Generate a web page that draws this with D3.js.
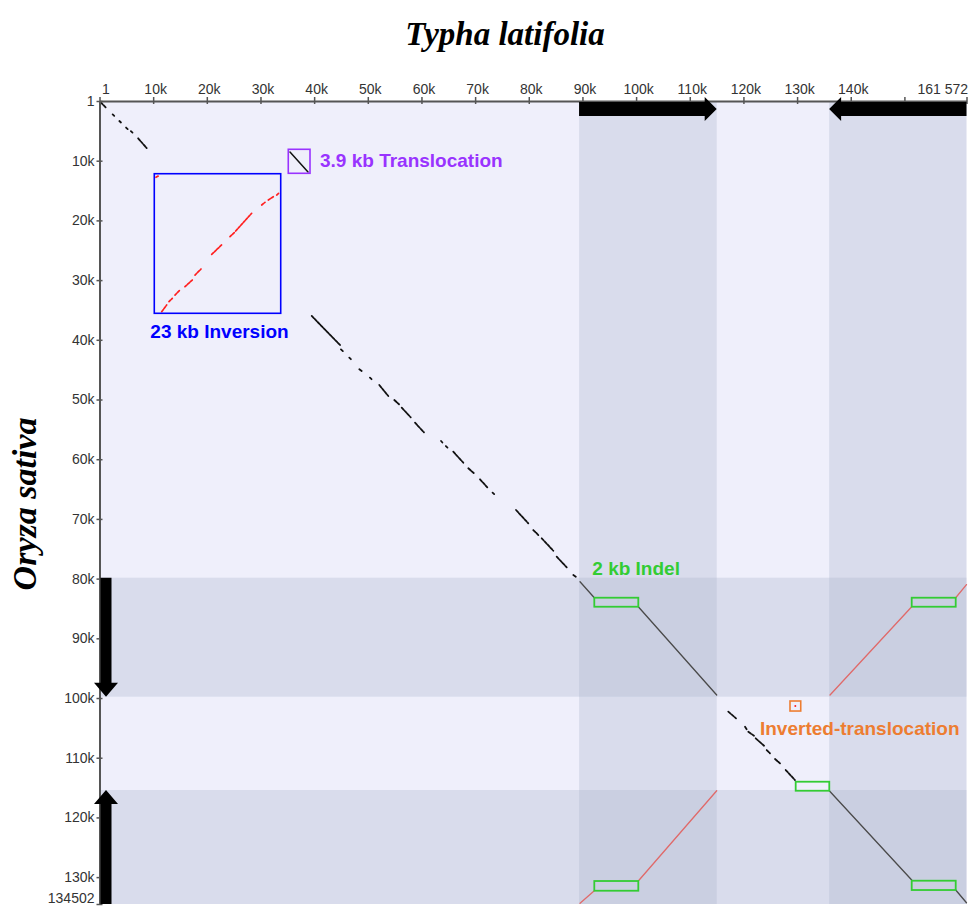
<!DOCTYPE html>
<html><head><meta charset="utf-8">
<script src="https://cdn.jsdelivr.net/npm/d3@7"></script>
<style>body{margin:0;background:#fff}</style>
</head><body>
<svg id="chart" width="971" height="908"></svg>
<script>
// ---------------- data ----------------
const typhaLength = 161572;   // x genome (bp)
const oryzaLength = 134502;   // y genome (bp)

const xTickValues = [1,10000,20000,30000,40000,50000,60000,70000,80000,90000,100000,110000,120000,130000,140000,150000,161572];
const xTickLabels = ["1","10k","20k","30k","40k","50k","60k","70k","80k","90k","100k","110k","120k","130k","140k","","161 572"];
const yTickValues = [1,10000,20000,30000,40000,50000,60000,70000,80000,90000,100000,110000,120000,130000,134502];
const yTickLabels = ["1","10k","20k","30k","40k","50k","60k","70k","80k","90k","100k","110k","120k","130k","134502"];

// inverted repeats (bp)
const typhaIR = [[89370,115020],[135970,161572]];
const oryzaIR = [[79850,99780],[115410,134502]];
const typhaIRdir = ["right","left"];
const oryzaIRdir = ["down","up"];

// alignment segments in kb: [typhaStart, oryzaStart, typhaEnd, oryzaEnd]
const forwardDashes = [
  [0.2,0.2,1.3,1.2],[2.45,2.25,2.75,2.5],[3.7,3.35,4.0,3.6],[4.95,4.45,5.25,4.7],[5.85,5.05,6.15,5.3],[7.2,6.25,8.8,7.9],
  [39.55,36.01,44.82,40.87],[45.0,41.6,45.35,41.9],[46.55,43.0,46.85,43.25],[48.42,44.94,48.86,45.23],[50.4,46.35,50.7,46.6],
  [52.14,47.57,53.82,49.41],[54.94,50.08,55.82,50.8],[56.32,51.37,58.0,52.98],[58.8,53.89,60.47,55.5],[63.65,56.95,63.9,57.2],
  [64.55,57.8,64.85,58.05],[65.93,58.74,67.8,60.59],[68.73,61.52,69.79,62.36],[70.91,63.37,72.27,64.71],[73.25,65.6,73.55,65.85],
  [77.62,68.51,79.91,70.74],[80.84,71.86,81.78,72.7],[82.41,73.25,84.57,75.33],[85.2,76.33,87.07,78.11],[88.3,79.4,88.93,79.78],
  [117.18,102.29,118.62,103.4],[120.3,104.8,120.61,105.24],[120.91,105.64,121.97,106.32],[122.29,106.75,123.84,107.99],
  [124.34,108.71,124.95,109.26],[125.89,110.22,126.82,110.94],[127.88,112.06,129.61,113.74]
];
const forwardIR = [
  [89.55,80.52,92.21,83.2],[100.41,84.71,115.02,99.5],[136.0,115.53,151.36,130.49],[159.56,132.16,161.57,134.3]
];
const reverseIR = [
  [136.14,99.5,151.36,84.71],[159.56,83.2,161.57,81.0],[89.55,134.39,92.21,132.28],[100.41,130.65,115.02,115.53]
];
const inversionSegs = [
  [10.53,12.78,10.96,12.56],[11.59,35.29,12.52,34.17],[12.95,33.62,13.57,33.05],[14.07,32.5,15.0,31.66],
  [15.93,31.11,17.29,29.98],[17.8,29.15,18.92,28.14],[20.91,25.68,22.89,24.0],[24.32,22.73,25.12,22.06],
  [25.38,21.78,28.36,18.81],[30.23,17.42,30.84,16.97],[31.46,16.58,32.39,16.03],[33.02,15.75,33.51,15.36]
];
const translocationSegs = [[35.5,8.54,38.86,11.89]];
const invTranslocationDot = [[129.67,101.34]];

// annotation boxes in kb: [x1,y1,x2,y2]
const translocationBox = [35.18,8.09,39.23,12.11];
const inversionBox = [10.21,12.18,33.77,35.56];
const indelBoxes = [
  [92.21,83.2,100.41,84.71],[151.36,83.2,159.56,84.71],[129.74,114.02,136.0,115.53],
  [151.36,130.6,159.56,132.16],[92.21,130.65,100.41,132.28]
];
const invTranslocationBox = [128.68,100.5,130.68,102.18];

const labelTexts = {
  title: "Typha latifolia", ytitle: "Oryza sativa",
  transloc: "3.9 kb Translocation", inversion: "23 kb Inversion",
  indel: "2 kb Indel", invTransloc: "Inverted-translocation"
};

// ---------------- drawing ----------------
const svg = d3.select("#chart");
const x = d3.scaleLinear().domain([1, typhaLength]).range([99.5, 966.5]);
const y = d3.scaleLinear().domain([1, oryzaLength]).range([101, 904]);
const kx = v => x(v*1000), ky = v => y(v*1000);
const sansFont = "'Liberation Sans', Arial, sans-serif";
const serifFont = "'Liberation Serif', 'Times New Roman', serif";

// plot background
svg.append("rect").attr("x", x(1)).attr("y", y(1))
  .attr("width", x(typhaLength)-x(1)).attr("height", y(oryzaLength)-y(1))
  .attr("fill", "#efeffb");

// IR bands
const band = "rgba(167,177,199,0.29)";
svg.append("g").selectAll("rect").data(typhaIR).join("rect")
  .attr("x", d=>x(d[0])).attr("width", d=>x(d[1])-x(d[0]))
  .attr("y", y(1)).attr("height", y(oryzaLength)-y(1)).attr("fill", band);
svg.append("g").selectAll("rect").data(oryzaIR).join("rect")
  .attr("y", d=>y(d[0])).attr("height", d=>y(d[1])-y(d[0]))
  .attr("x", x(1)).attr("width", x(typhaLength)-x(1)).attr("fill", band);

function segs(data, color, width, dash) {
  svg.append("g").selectAll("line").data(data).join("line")
    .attr("x1", d=>kx(d[0])).attr("y1", d=>ky(d[1]))
    .attr("x2", d=>kx(d[2])).attr("y2", d=>ky(d[3]))
    .attr("stroke", color).attr("stroke-width", width).attr("stroke-linecap", "round")
    .attr("stroke-dasharray", dash || null);
}
segs(forwardIR, "#4a4a4a", 1.3);
segs(reverseIR, "#e06a6a", 1.3);
segs(forwardDashes, "#111", 1.8, "3,1.2");
segs(inversionSegs, "#ff2020", 1.7, "2.5,1.2");
segs(translocationSegs, "#111", 1.5);
svg.append("g").selectAll("circle").data(invTranslocationDot).join("circle")
  .attr("cx", d=>kx(d[0])).attr("cy", d=>ky(d[1])).attr("r", 1).attr("fill", "#ff2020");

function box(b, color, w) {
  svg.append("rect").attr("x", kx(b[0])).attr("y", ky(b[1]))
    .attr("width", kx(b[2])-kx(b[0])).attr("height", ky(b[3])-ky(b[1]))
    .attr("fill", "none").attr("stroke", color).attr("stroke-width", w);
}
box(translocationBox, "#9933ff", 1.6);
box(inversionBox, "#0000ff", 1.6);
indelBoxes.forEach(b => box(b, "#33cc33", 1.8));
box(invTranslocationBox, "#ed7d31", 1.6);

// axes
const gx = svg.append("g").attr("transform", `translate(0,${y(1)})`)
  .call(d3.axisTop(x).tickValues(xTickValues).tickFormat((d,i)=>xTickLabels[i])
    .tickSizeInner(4).tickSizeOuter(0).tickPadding(3));
gx.attr("font-family", sansFont).attr("font-size", 14);
gx.select(".domain").attr("stroke", "#555").attr("stroke-width", 2);
gx.selectAll(".tick line").attr("y1", 3).attr("y2", -4).attr("stroke", "#555").attr("stroke-width", 1.5);
const nx = xTickValues.length - 1;
gx.selectAll(".tick text").attr("fill", "#333")
  .attr("dx", (d,i)=> i===0 ? 6 : (i===nx ? 1 : 2))
  .attr("text-anchor", (d,i)=> i===nx ? "end" : "middle");

const gy = svg.append("g").attr("transform", `translate(${x(1)},0)`)
  .call(d3.axisLeft(y).tickValues(yTickValues).tickFormat((d,i)=>yTickLabels[i])
    .tickSizeInner(3).tickSizeOuter(0).tickPadding(2));
gy.attr("font-family", sansFont).attr("font-size", 14);
gy.select(".domain").attr("stroke", "#555").attr("stroke-width", 2);
gy.selectAll(".tick line").attr("x1", -3).attr("x2", 3).attr("stroke", "#555").attr("stroke-width", 1.5);
const ny = yTickValues.length - 1;
gy.selectAll(".tick text").attr("fill", "#333")
  .attr("y", (d,i)=> i===ny ? -6 : 0);

// IR arrows
const arrowG = svg.append("g").attr("fill", "#000");
typhaIR.forEach((r,i) => {
  const a = x(r[0]), b = x(r[1]), c = y(1) + 8;
  const bh = 7, hh = 12, hl = 12;
  let pts;
  if (typhaIRdir[i] === "right") {
    pts = [[a,c-bh],[b-hl,c-bh],[b-hl,c-hh],[b,c],[b-hl,c+hh],[b-hl,c+bh],[a,c+bh]];
  } else {
    pts = [[b,c-bh],[a+hl,c-bh],[a+hl,c-hh],[a,c],[a+hl,c+hh],[a+hl,c+bh],[b,c+bh]];
  }
  arrowG.append("polygon").attr("points", pts.map(p=>p.join(",")).join(" "));
});
oryzaIR.forEach((r,i) => {
  const a = y(r[0]), b = y(r[1]), c = x(1) + 6.5;
  const bw = 5.5, hw = 12, hl = 14;
  let pts;
  if (oryzaIRdir[i] === "down") {
    pts = [[c-bw,a],[c-bw,b-hl],[c-hw,b-hl],[c,b],[c+hw,b-hl],[c+bw,b-hl],[c+bw,a]];
  } else {
    pts = [[c-bw,b],[c-bw,a+hl],[c-hw,a+hl],[c,a],[c+hw,a+hl],[c+bw,a+hl],[c+bw,b]];
  }
  arrowG.append("polygon").attr("points", pts.map(p=>p.join(",")).join(" "));
});

// annotation labels
function label(txt, px, py, color, anchor) {
  svg.append("text").attr("x", px).attr("y", py).text(txt)
    .attr("font-family", sansFont).attr("font-weight", "bold").attr("font-size", 19)
    .attr("fill", color).attr("text-anchor", anchor || "start");
}
label(labelTexts.transloc, kx(translocationBox[2]) + 10, ky(translocationBox[3]) - 6, "#9933ff");
label(labelTexts.inversion, (kx(inversionBox[0]) + kx(inversionBox[2]))/2 + 2, ky(inversionBox[3]) + 25, "#0000ff", "middle");
label(labelTexts.indel, kx(indelBoxes[0][0]) - 2, ky(indelBoxes[0][1]) - 23, "#33cc33");
label(labelTexts.invTransloc, kx(invTranslocationBox[0]) - 30, ky(invTranslocationBox[3]) + 24, "#ed7d31");

// titles
svg.append("text").attr("x", 505).attr("y", 45).text(labelTexts.title)
  .attr("font-family", serifFont).attr("font-style", "italic").attr("font-weight", "bold")
  .attr("font-size", 33).attr("text-anchor", "middle").attr("fill", "#000");
svg.append("text").attr("transform", "translate(36,504) rotate(-90)").text(labelTexts.ytitle)
  .attr("font-family", serifFont).attr("font-style", "italic").attr("font-weight", "bold")
  .attr("font-size", 34).attr("text-anchor", "middle").attr("fill", "#000");
</script>
</body></html>
